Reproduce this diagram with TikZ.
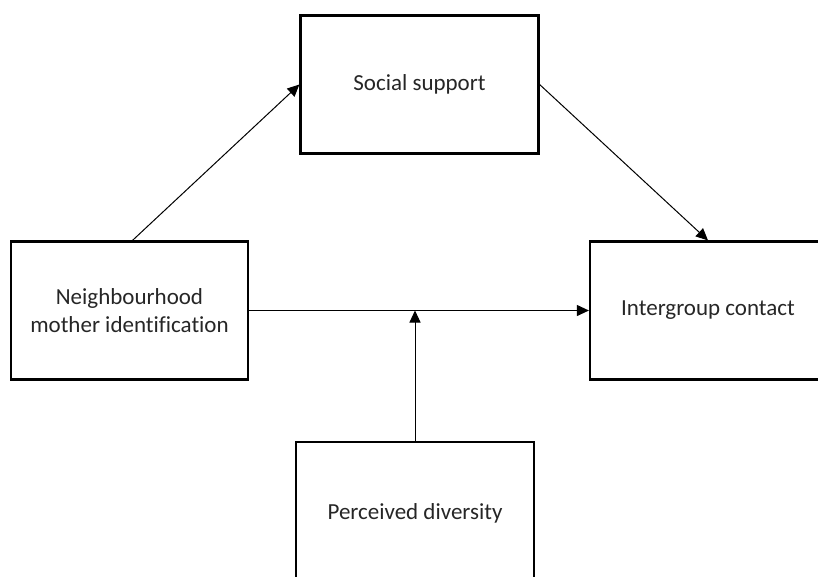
\documentclass[tikz,border=0pt]{standalone}
\usepackage{fontspec}
\setmainfont[Ligatures=CommonOff]{Carlito}
\usetikzlibrary{positioning, calc, arrows.meta}

\begin{document}
\begin{tikzpicture}[x=1pt, y=-1pt, >={Triangle[length=12pt, width=11pt]},
	box/.style={draw, line width=2.2pt, rectangle, align=center, font=\fontsize{23}{28}\selectfont, text=black!85, minimum width=238pt, minimum height=138pt, inner sep=0pt},
	link/.style={->, line width=1pt}]
	\useasboundingbox (0,0) rectangle (818,576);
	\clip (0,0) rectangle (818,576);
	
	%Variaveis:
	\node[box]	(social)    at (419.5,84.5)  {Social support};
	\node[box, minimum width=237pt]	(neigh)     at (129.5,310.5) {Neighbourhood\\mother identification};
	\node[box, minimum width=236pt]	(contact)   at (708,310.5)   {Intergroup contact};
	\node[box, minimum height=142pt]	(diversity) at (415,513)     {Perceived diversity};
	\coordinate (mod) at (diversity.north |- neigh.east);
	
	%Caminhos:
	\draw[link] ($(neigh.north)+(3,0)$) -- (social.west);
	\draw[link] (social.east) -- (contact.north);
	\draw[link] (neigh.east) -- (contact.west);
	\draw[link] (diversity.north) -- (mod);
\end{tikzpicture}
\end{document}
